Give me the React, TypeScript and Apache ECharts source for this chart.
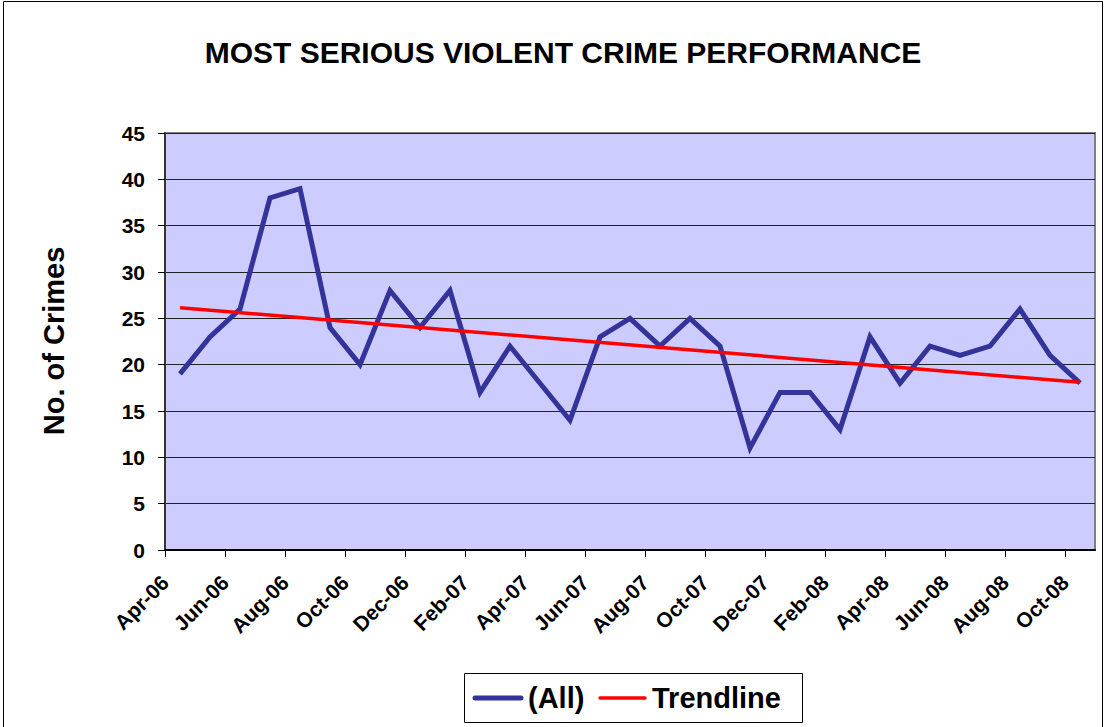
import React, { useEffect, useRef } from "react";
import * as echarts from "echarts";

const chartTitle = "MOST SERIOUS VIOLENT CRIME PERFORMANCE";
const yAxisTitle = "No. of Crimes";
const months = [
  "Apr-06", "May-06", "Jun-06", "Jul-06", "Aug-06", "Sep-06", "Oct-06", "Nov-06", "Dec-06",
  "Jan-07", "Feb-07", "Mar-07", "Apr-07", "May-07", "Jun-07", "Jul-07", "Aug-07", "Sep-07",
  "Oct-07", "Nov-07", "Dec-07", "Jan-08", "Feb-08", "Mar-08", "Apr-08", "May-08", "Jun-08",
  "Jul-08", "Aug-08", "Sep-08", "Oct-08",
];
const crimes = [
  19, 23, 26, 38, 39, 24, 20, 28, 24, 28, 17, 22, 18, 14, 23, 25, 22, 25, 22, 11, 17, 17,
  13, 23, 18, 22, 21, 22, 26, 21, 18,
];
// trendline values at the first and last month
const trendEnds = [26.15, 18.1];
const yMin = 0;
const yMax = 45;
const yStep = 5;
const seriesNames = ["(All)", "Trendline"];
const seriesColors = ["#333399", "#FF0000"];
const seriesWidths = [5, 3.5];

const FONT = "'Liberation Sans', Arial, Helvetica, sans-serif";

export default function App() {
  const ref = useRef<HTMLDivElement>(null);
  useEffect(() => {
    if (!ref.current) return;
    const chart = echarts.init(ref.current, null, { renderer: "svg" });
    const labelIdx = months.map((_, i) => i).filter((i) => i % 2 === 0);
    const mainData = crimes.map((v, i) => [i + 0.5, v]);
    const trendData = [
      [0.5, trendEnds[0]],
      [months.length - 0.5, trendEnds[1]],
    ];
    const legendY = 698;
    const legendFont = `bold 29px ${FONT}`;
    chart.setOption({
      animation: false,
      backgroundColor: "#ffffff",
      textStyle: { fontFamily: FONT },
      grid: {
        left: 165,
        right: 11,
        top: 133,
        bottom: 177,
        show: true,
        backgroundColor: "#CCCCFF",
        borderColor: "#808080",
        borderWidth: 2,
      },
      graphic: [
        {
          type: "rect",
          shape: { x: 3.5, y: 1.5, width: 1099, height: 760 },
          style: { fill: "none", stroke: "#000", lineWidth: 1 },
          silent: true,
          z: -10,
        },
        {
          type: "text",
          x: 563,
          y: 52,
          style: {
            text: chartTitle,
            font: `bold 30px ${FONT}`,
            fill: "#000",
            align: "center",
            verticalAlign: "middle",
          },
        },
        {
          type: "text",
          x: 54,
          y: 341,
          rotation: Math.PI / 2,
          style: {
            text: yAxisTitle,
            font: `bold 29px ${FONT}`,
            fill: "#000",
            align: "center",
            verticalAlign: "middle",
          },
        },
        // legend
        {
          type: "rect",
          shape: { x: 464.5, y: 673.5, width: 338, height: 49 },
          style: { fill: "#fff", stroke: "#000", lineWidth: 1 },
          silent: true,
        },
        {
          type: "line",
          shape: { x1: 475, y1: legendY, x2: 521, y2: legendY },
          style: { stroke: seriesColors[0], lineWidth: seriesWidths[0], lineCap: "round" },
        },
        {
          type: "text",
          x: 528,
          y: legendY,
          style: {
            text: seriesNames[0],
            font: legendFont,
            fill: "#000",
            align: "left",
            verticalAlign: "middle",
          },
        },
        {
          type: "line",
          shape: { x1: 600, y1: legendY, x2: 645, y2: legendY },
          style: { stroke: seriesColors[1], lineWidth: seriesWidths[1], lineCap: "round" },
        },
        {
          type: "text",
          x: 652,
          y: legendY,
          style: {
            text: seriesNames[1],
            font: legendFont,
            fill: "#000",
            align: "left",
            verticalAlign: "middle",
          },
        },
      ],
      xAxis: {
        type: "value",
        min: 0,
        max: months.length,
        interval: 2,
        axisLine: { show: true, lineStyle: { color: "#000", width: 2 } },
        axisTick: {
          show: true,
          length: 7,
          customValues: labelIdx,
          lineStyle: { color: "#000", width: 1 },
        },
        axisLabel: {
          customValues: labelIdx,
          rotate: 45,
          margin: 29,
          fontFamily: FONT,
          fontSize: 21,
          fontWeight: "bold",
          color: "#000",
          formatter: (v: number) => months[Math.round(v)] ?? "",
        },
        splitLine: { show: false },
      },
      yAxis: {
        type: "value",
        min: yMin,
        max: yMax,
        interval: yStep,
        axisLine: { show: true, lineStyle: { color: "#333", width: 2 } },
        axisTick: { show: true, length: 7, lineStyle: { color: "#000", width: 1 } },
        axisLabel: {
          margin: 20,
          fontFamily: FONT,
          fontSize: 21,
          fontWeight: "bold",
          color: "#000",
        },
        splitLine: { show: true, lineStyle: { color: "#222", width: 1 } },
      },
      series: [
        {
          name: seriesNames[0],
          type: "line",
          data: mainData,
          symbol: "none",
          color: seriesColors[0],
          lineStyle: { color: seriesColors[0], width: seriesWidths[0], join: "miter" },
          z: 3,
        },
        {
          name: seriesNames[1],
          type: "line",
          data: trendData,
          symbol: "none",
          color: seriesColors[1],
          lineStyle: { color: seriesColors[1], width: seriesWidths[1] },
          z: 4,
        },
      ],
    });
    return () => chart.dispose();
  }, []);
  return (
    <div
      ref={ref}
      style={{ position: "fixed", left: 0, top: 0, width: 1106, height: 727 }}
    />
  );
}
